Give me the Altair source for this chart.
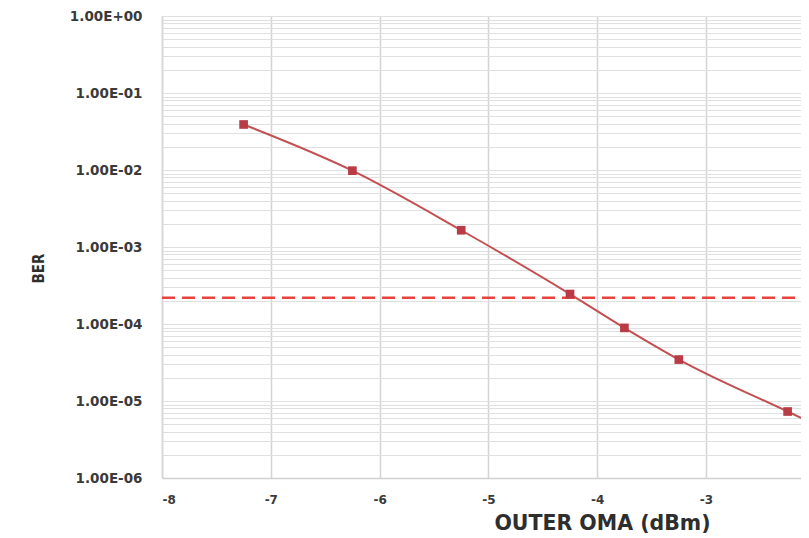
import altair as alt
import pandas as pd

# Data
oma_dbm = [-7.25, -6.25, -5.25, -4.25, -3.75, -3.25, -2.25, -1.75]
ber = [3.9e-2, 9.8e-3, 1.65e-3, 2.45e-4, 8.9e-5, 3.45e-5, 7.3e-6, 3.4e-6]
ber_limit = [2.2e-4]
x_ticks = [-8, -7, -6, -5, -4, -3]
decades = [-6, -5, -4, -3, -2, -1, 0]
minor_mult = [1, 2, 3, 4, 5, 6, 7, 8, 9]

y_grid = sorted({round(m * 10.0 ** e, 12) for e in decades for m in minor_mult if m * 10.0 ** e <= 1.0})

df = pd.DataFrame({"oma": oma_dbm, "ber": ber})
lim = pd.DataFrame({"ber": ber_limit})

FONT = "DejaVu Sans"

label_expr = (
    "abs(log(datum.value)/LN10 - round(log(datum.value)/LN10)) < 0.001 ? "
    "(round(log(datum.value)/LN10) == 0 ? '1.00E+00' : "
    "'1.00E-0' + abs(round(log(datum.value)/LN10))) : ''"
)

x_scale = alt.Scale(domain=[-8, -2.127], nice=False, zero=False)
y_scale = alt.Scale(type="log", domain=[1e-6, 1], nice=False)

x_enc = alt.X(
    "oma:Q",
    scale=x_scale,
    axis=alt.Axis(
        values=x_ticks,
        labelExpr="datum.value < 0 ? '-' + abs(datum.value) : '' + datum.value",
        title="OUTER OMA (dBm)",
        titleX=440,
        titleY=45,
        titleBaseline="middle",
        titleFontSize=20.5,
        titleFontWeight="bold",
        titleColor="#2e2e2e",
        labelFontSize=12,
        labelFontWeight="bold",
        labelColor="#3a3a3a",
        labelPadding=16,
        grid=True,
        gridColor="#d4d4d4",
        gridWidth=1.5,
        ticks=False,
        domainColor="#d0d0d0",
        domainWidth=1.5,
    ),
)

y_enc = alt.Y(
    "ber:Q",
    scale=y_scale,
    axis=alt.Axis(
        values=y_grid,
        labelExpr=label_expr,
        title="BER",
        titleFont="DejaVu Sans Condensed",
        titleFontSize=15,
        titleFontWeight="bold",
        titleColor="#2e2e2e",
        titleX=-124,
        titleY=252,
        titleBaseline="middle",
        titleAngle=270,
        labelFontSize=13.5,
        labelFontWeight="bold",
        labelColor="#3a3a3a",
        labelPadding=20,
        grid=True,
        gridColor="#e0e0e0",
        gridWidth=1,
        ticks=False,
        domainColor="#d6d6d6",
        domainWidth=1.5,
        labelOverlap=False,
    ),
)

line = alt.Chart(df).mark_line(
    color="#c25052", strokeWidth=2, interpolate="monotone", clip=True
).encode(x=x_enc, y=y_enc)

points = alt.Chart(df).mark_point(
    shape="square", filled=True, size=75, color="#b93b46", opacity=1, clip=True
).encode(x="oma:Q", y="ber:Q")

limit = alt.Chart(lim).mark_rule(
    color="#e8433d", strokeWidth=2.5, strokeDash=[13, 7], strokeDashOffset=14
).encode(y="ber:Q")

chart = (
    alt.layer(line, limit, points)
    .properties(
        width=639,
        height=462,
        autosize=alt.AutoSizeParams(type="none"),
        padding={"left": 154, "top": 8, "right": 0, "bottom": 56},
    )
    .configure(font=FONT)
    .configure_view(stroke=None)
)

chart.save("out.html", embed_options={"renderer": "svg", "actions": False})
